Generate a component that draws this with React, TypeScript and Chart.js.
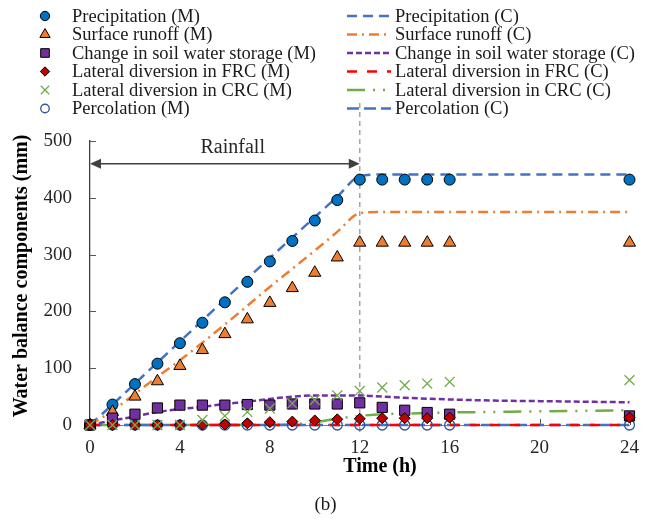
import React, { useEffect, useRef } from 'react';
import { Chart, registerables } from 'chart.js';
import { drawPoint } from 'chart.js/helpers';

Chart.register(...registerables);

// ---------- data ----------
const hoursM = [0, 1, 2, 3, 4, 5, 6, 7, 8, 9, 10, 11, 12, 13, 14, 15, 16, 24];
const precipM = [0, 36, 72, 108, 144, 180, 216, 252, 288, 324, 360, 396, 432, 432, 432, 432, 432, 432];
const runoffM = [0, 23, 50, 77, 104, 132, 160, 186, 215, 241, 268, 295, 321, 321, 321, 321, 321, 321];
const storageM = [0, 12, 19, 30, 35, 35, 35, 36, 35, 37, 37, 37, 39, 31, 26, 22, 19, 16];
const frcM = [0, 0, 0, 0, 0, 0.5, 1, 3, 5, 6, 8, 10, 11, 12, 12, 12, 13, 13];
const crcM = [0, 0, 0, 0, 0, 9, 16, 23, 29, 38, 44, 52, 60, 66, 70, 73, 76, 79];
const percM = [0, 0, 0, 0, 0, 0, 0, 0, 0, 0, 0, 0, 0, 0, 0, 0, 0, 0];

const hoursC = [0, 1, 2, 3, 4, 5, 6, 7, 8, 9, 10, 11, 12, 13, 14, 16, 18, 20, 22, 24];
const precipC = [0, 36, 73, 110, 147, 184, 221, 258, 294, 330, 366, 402, 438, 441, 441, 441, 441, 441, 441, 441];
const runoffC = [0, 25, 55, 85, 114, 145, 177, 210, 243, 275, 307, 340, 373, 375, 375, 375, 375, 375, 375, 375];
const storageC = [0, 8, 15, 23, 28, 32, 37, 41, 46, 50, 52, 52, 52, 50, 48, 45, 43, 42, 41, 40];
const frcC = [0, 0, 0, 0, 0, 0, 0, 0, 0, 0, 0, 0, 0, 0, 0, 0, 0, 0, 0, 0];
const crcC = [0, 0, 0, 0, 0, 0, 0, 0, 0, 1, 5, 11, 16, 19, 20, 22, 23, 24, 25, 26];
const percC = [0, 0, 0, 0, 0, 0, 0, 0, 0, 0, 0, 0, 0, 0, 0, 0, 0, 0, 0, 0];

const xTickValues = [0, 4, 8, 12, 16, 20, 24];
const yTickValues = [0, 100, 200, 300, 400, 500];

const labelsM = [
  'Precipitation (M)',
  'Surface runoff (M)',
  'Change in soil water storage (M)',
  'Lateral diversion in FRC (M)',
  'Lateral diversion in CRC (M)',
  'Percolation (M)',
];
const labelsC = [
  'Precipitation (C)',
  'Surface runoff (C)',
  'Change in soil water storage (C)',
  'Lateral diversion in FRC (C)',
  'Lateral diversion in CRC (C)',
  'Percolation (C)',
];

const rainStart = 0;
const rainEnd = 12;
const rainArrowY = 460;
const rainTextY = 488;
const rainLabel = 'Rainfall';
const xTitle = 'Time (h)';
const yTitle = 'Water balance components (mm)';
const panelLabel = '(b)';

const FONT = "'Liberation Serif', 'Times New Roman', serif";

const pts = (xs: number[], ys: number[]) => xs.map((x, i) => ({ x, y: ys[i] }));

type MStyle = { style: string; r: number; fill: string; stroke: string; bw: number };
type CStyle = { color: string; dash: number[]; w: number };

const mStyles: MStyle[] = [
  { style: 'circle', r: 5.5, fill: '#0070C0', stroke: '#000', bw: 1 },
  { style: 'triangle', r: 7, fill: '#ED7D31', stroke: '#000', bw: 1 },
  { style: 'rect', r: 7.2, fill: '#7030A0', stroke: '#000', bw: 1 },
  { style: 'rectRot', r: 5.5, fill: '#C00000', stroke: '#000', bw: 1 },
  { style: 'crossRot', r: 7, fill: '#70AD47', stroke: '#70AD47', bw: 1.3 },
  { style: 'circle', r: 5, fill: 'rgba(255,255,255,0)', stroke: '#2F5597', bw: 1.3 },
];
const cStyles: CStyle[] = [
  { color: '#4472C4', dash: [10, 6], w: 2.5 },
  { color: '#ED7D31', dash: [10, 5, 2, 5], w: 2.5 },
  { color: '#7030A0', dash: [6, 3], w: 2.5 },
  { color: '#FF0000', dash: [10, 10], w: 2.5 },
  { color: '#70AD47', dash: [18, 8, 2, 8, 2, 8], w: 2.5 },
  { color: '#4472C4', dash: [12, 5], w: 2.5 },
];

const mData = [precipM, runoffM, storageM, frcM, crcM, percM];
const cData = [precipC, runoffC, storageC, frcC, crcC, percC];

// drawing order: index 0 is drawn on top
const mOrder = [4, 3, 2, 1, 0, 5];

const overlayPlugin = {
  id: 'overlay',
  beforeDatasetsDraw(chart: any) {
    const { ctx, scales } = chart;
    const x = scales.x;
    const y = scales.y;
    const y0 = y.getPixelForValue(0);
    ctx.save();
    // inward tick marks
    ctx.strokeStyle = '#595959';
    ctx.lineWidth = 1;
    ctx.setLineDash([]);
    yTickValues.forEach((v) => {
      const py = Math.round(y.getPixelForValue(v)) + 0.5;
      ctx.beginPath();
      ctx.moveTo(x.left, py);
      ctx.lineTo(x.left + 6, py);
      ctx.stroke();
    });
    xTickValues.forEach((v) => {
      const px = Math.round(x.getPixelForValue(v)) + 0.5;
      ctx.beginPath();
      ctx.moveTo(px, y0);
      ctx.lineTo(px, y0 - 6);
      ctx.stroke();
    });
    // vertical dashed line at end of rainfall
    const pe = x.getPixelForValue(rainEnd);
    ctx.strokeStyle = '#A6A6A6';
    ctx.lineWidth = 1.5;
    ctx.setLineDash([5, 4]);
    ctx.beginPath();
    ctx.moveTo(pe, y.getPixelForValue(567));
    ctx.lineTo(pe, y0 + 8);
    ctx.stroke();
    ctx.restore();
  },
  afterDatasetsDraw(chart: any) {
    const { ctx, scales } = chart;
    const x = scales.x;
    const y = scales.y;
    ctx.save();
    // axis titles
    ctx.fillStyle = '#000';
    ctx.font = `bold 20px ${FONT}`;
    ctx.textAlign = 'center';
    ctx.textBaseline = 'middle';
    ctx.fillText(xTitle, 380, 467);
    ctx.save();
    ctx.translate(22, 276);
    ctx.rotate(-Math.PI / 2);
    ctx.fillText(yTitle, 0, 0);
    ctx.restore();

    // rainfall arrow
    const ay = y.getPixelForValue(rainArrowY);
    const ax0 = x.getPixelForValue(rainStart);
    const ax1 = x.getPixelForValue(rainEnd);
    ctx.strokeStyle = '#404040';
    ctx.fillStyle = '#404040';
    ctx.lineWidth = 1.5;
    ctx.setLineDash([]);
    ctx.beginPath();
    ctx.moveTo(ax0 + 8, ay);
    ctx.lineTo(ax1 - 8, ay);
    ctx.stroke();
    ctx.beginPath();
    ctx.moveTo(ax0, ay);
    ctx.lineTo(ax0 + 11, ay - 5);
    ctx.lineTo(ax0 + 11, ay + 5);
    ctx.closePath();
    ctx.fill();
    ctx.beginPath();
    ctx.moveTo(ax1, ay);
    ctx.lineTo(ax1 - 11, ay - 5);
    ctx.lineTo(ax1 - 11, ay + 5);
    ctx.closePath();
    ctx.fill();
    ctx.font = `20px ${FONT}`;
    ctx.fillStyle = '#262626';
    ctx.textAlign = 'center';
    ctx.textBaseline = 'middle';
    ctx.fillText(rainLabel, x.getPixelForValue((rainStart + rainEnd) / 2 + 0.35), y.getPixelForValue(rainTextY));

    // legend
    ctx.font = `18.5px ${FONT}`;
    ctx.textAlign = 'left';
    ctx.fillStyle = '#1a1a1a';
    for (let i = 0; i < 6; i++) {
      const ry = 16 + i * 18.5;
      const m = mStyles[i];
      ctx.save();
      ctx.fillStyle = m.fill;
      ctx.strokeStyle = m.stroke;
      ctx.lineWidth = m.bw;
      drawPoint(ctx, { pointStyle: m.style, radius: m.r * 0.85, borderWidth: m.bw, rotation: 0 } as any, 45, ry);
      ctx.restore();
      ctx.fillText(labelsM[i], 72, ry + 1);

      const c = cStyles[i];
      ctx.save();
      ctx.strokeStyle = c.color;
      ctx.lineWidth = c.w;
      ctx.setLineDash(c.dash);
      ctx.beginPath();
      ctx.moveTo(347, ry);
      ctx.lineTo(391, ry);
      ctx.stroke();
      ctx.restore();
      ctx.fillText(labelsC[i], 395, ry + 1);
    }
    ctx.restore();
  },
};

export default function App() {
  const ref = useRef<HTMLCanvasElement>(null);

  useEffect(() => {
    if (!ref.current) return;
    const markerSets = mOrder.map((i) => {
      const m = mStyles[i];
      return {
        type: 'scatter' as const,
        label: labelsM[i],
        data: pts(hoursM, mData[i]),
        pointStyle: m.style,
        pointRadius: m.r,
        backgroundColor: m.fill,
        borderColor: m.stroke,
        borderWidth: m.bw,
        showLine: false,
        clip: false as any,
      };
    });
    const lineSets = [3, 5, 4, 2, 1, 0].map((i) => {
      const c = cStyles[i];
      return {
        type: 'line' as const,
        label: labelsC[i],
        data: pts(hoursC, cData[i]),
        borderColor: c.color,
        borderDash: c.dash,
        borderWidth: c.w,
        pointRadius: 0,
        fill: false,
        cubicInterpolationMode: 'monotone' as const,
        clip: false as any,
      };
    });

    const chart = new Chart(ref.current, {
      type: 'scatter',
      data: { datasets: [...markerSets, ...lineSets] as any },
      plugins: [overlayPlugin],
      options: {
        responsive: false,
        animation: false,
        events: [],
        layout: { padding: { left: 0, right: 20, top: 141, bottom: 0 } },
        plugins: { legend: { display: false }, tooltip: { enabled: false }, title: { display: false } },
        scales: {
          x: {
            type: 'linear',
            min: 0,
            max: 24,
            afterBuildTicks: (s: any) => {
              s.ticks = xTickValues.map((v) => ({ value: v }));
            },
            afterFit: (s: any) => {
              s.height = 94;
            },
            grid: { display: false, drawTicks: false },
            border: { display: true, color: '#7f7f7f', width: 1 },
            ticks: { padding: 12, color: '#262626', font: { family: FONT, size: 19 } },
            title: { display: false },
          },
          y: {
            type: 'linear',
            min: 0,
            max: 500,
            afterBuildTicks: (s: any) => {
              s.ticks = yTickValues.map((v) => ({ value: v }));
            },
            afterFit: (s: any) => {
              s.width = 90;
            },
            grid: { display: false, drawTicks: false },
            border: { display: true, color: '#404040', width: 1.3 },
            ticks: { padding: 18, color: '#262626', font: { family: FONT, size: 19 } },
            title: { display: false },
          },
        },
      } as any,
    });
    return () => chart.destroy();
  }, []);

  return (
    <div style={{ position: 'absolute', left: 0, top: 0, width: 651, height: 519, background: '#fff' }}>
      <canvas ref={ref} width={651} height={519} style={{ width: 651, height: 519, display: 'block' }} />
      <div
        style={{
          position: 'absolute',
          left: 0,
          width: 651,
          top: 492,
          textAlign: 'center',
          fontFamily: FONT,
          fontSize: 19,
          lineHeight: '24px',
          color: '#1a1a1a',
        }}
      >
        {panelLabel}
      </div>
    </div>
  );
}
